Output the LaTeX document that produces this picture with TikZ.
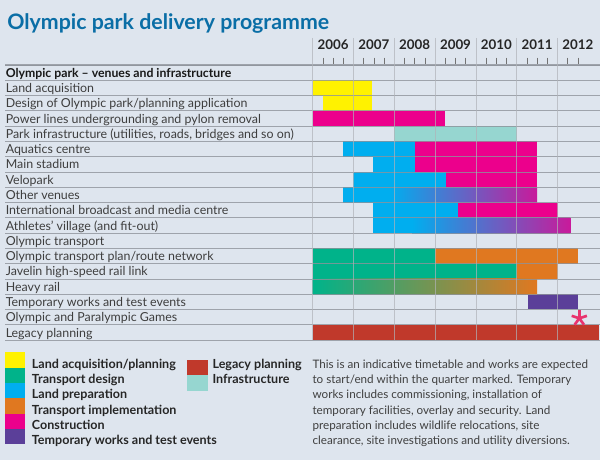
\documentclass[tikz,border=0pt]{standalone}
\usepackage{fontspec}
\setmainfont{Lato}
\begin{document}
\begin{tikzpicture}[x=0.75pt,y=-0.75pt,
    rowlbl/.style={anchor=base west,inner sep=0pt,text=txtgrey,font=\fontsize{9.3}{10}\selectfont},
    keylbl/.style={anchor=base west,inner sep=0pt,text=black!85,font=\bfseries\fontsize{9.4}{10}\selectfont},
    notelbl/.style={anchor=base west,inner sep=0pt,text=black!75,font=\fontsize{8.75}{10}\selectfont},
    yearlbl/.style={anchor=base,inner sep=0pt,text=black!85,font=\bfseries\fontsize{10}{11}\selectfont},
    hline/.style={draw=gridgrey,line width=0.6pt,opacity=0.8},
    vline/.style={draw=gridgrey!70,line width=0.6pt,opacity=0.7},
    qtick/.style={draw=black!55,line width=0.45pt}]
    %colours
    \definecolor{bg}{HTML}{DEE5EE}
    \definecolor{ttlblue}{HTML}{0A6EA6}
    \definecolor{txtgrey}{HTML}{3E3E3E}
    \definecolor{gridgrey}{HTML}{8E939B}
    \definecolor{yel}{HTML}{FFF200}
    \definecolor{tgreen}{HTML}{00B38A}
    \definecolor{lblue}{HTML}{00AEEF}
    \definecolor{orng}{HTML}{E07820}
    \definecolor{mag}{HTML}{EC008C}
    \definecolor{purp}{HTML}{5B3F99}
    \definecolor{legred}{HTML}{C0392B}
    \definecolor{infra}{HTML}{96D6D0}
    \definecolor{astpink}{HTML}{E8336E}

    % Fondo
    \fill[bg] (0,0) rectangle (600,460);
    \useasboundingbox (0,0) rectangle (600,460);

    % Titulo
    \node[anchor=base west,inner sep=0pt,text=ttlblue,font=\bfseries\fontsize{16}{18}\selectfont] (title) at (7,30) {Olympic park delivery programme};

    % Barras
    \foreach \r/\xa/\xb/\c in {1/312.7/372/yel, 2/322.7/372/yel, 3/312.7/445.3/mag, 4/394.3/517/infra,
        5/342.7/415/lblue, 5/415/537/mag, 6/373.3/415/lblue, 6/415/537/mag,
        7/353.3/445.7/lblue, 7/445.7/537/mag, 8/342.7/390/lblue,
        9/373.3/457.7/lblue, 9/457.7/557.7/mag, 10/373.3/412/lblue,
        12/312.7/435.3/tgreen, 12/435.3/578.3/orng, 13/312.7/517/tgreen, 13/517/557.7/orng,
        15/527.7/578.3/purp, 17/312.7/599/legred}
      \fill[\c] (\xa,{65+15.28*\r}) rectangle (\xb,{65+15.28*(\r+1)});
    % Barras degradadas
    \shade[left color=lblue,right color=mag!85!lblue] (390,{65+15.28*8}) rectangle (537,{65+15.28*9});
    \shade[left color=lblue,right color=mag!85!lblue] (412,{65+15.28*10}) rectangle (570.3,{65+15.28*11});
    \shade[left color=tgreen,right color=orng] (312.7,{65+15.28*14}) rectangle (537,{65+15.28*15});

    % Rejilla
    \foreach \i in {0,...,18}
      \draw[hline] (5,{65+15.28*\i}) -- (600,{65+15.28*\i});
    \draw[hline,line width=0.9pt] (5,65) -- (600,65);
    \foreach \k in {0,...,6}
      \draw[vline] ({312.7+40.8*\k},38) -- ({312.7+40.8*\k},340.04);

    % Anos y trimestres
    \foreach \k/\yr in {0/2006,1/2007,2/2008,3/2009,4/2010,5/2011,6/2012}
      \node[yearlbl] (y\yr) at ({333.1+40.8*\k},50) {\yr};
    \foreach \k in {0,...,5}
      \foreach \q in {1,2,3}
        \draw[qtick] ({312.7+40.8*\k+10.2*\q},57.7) -- +(0,6.6);
    \foreach \q in {1,2}
      \draw[qtick] ({557.5+10.2*\q},57.7) -- +(0,6.6);

    % Filas
    \node[rowlbl,font=\bfseries\fontsize{9.2}{10}\selectfont,text=black!90] (row0) at (5.5,77.3) {Olympic park -- venues and infrastructure};
    \foreach \i/\txt in {1/{Land acquisition}, 2/{Design of Olympic park/planning application},
        3/{Power lines undergrounding and pylon removal},
        4/{Park infrastructure (utilities, roads, bridges and so on)}, 5/{Aquatics centre},
        6/{Main stadium}, 7/{Velopark}, 8/{Other venues}, 9/{International broadcast and media centre},
        10/{Athletes' village (and fit-out)}, 11/{Olympic transport}, 12/{Olympic transport plan/route network},
        13/{Javelin high-speed rail link}, 14/{Heavy rail}, 15/{Temporary works and test events},
        16/{Olympic and Paralympic Games}, 17/{Legacy planning}}
      \node[rowlbl] (row\i) at (5.5,{65+15.28*(\i+1)-3}) {\txt};

    % Asterisco
    \coordinate (ast) at (579.3,318.3);
    \foreach \a in {270,342,198,54,126}
      \draw[astpink,line width=2pt] (ast) -- +(\a:8);

    % Leyenda
    \foreach \j/\c/\txt in {0/yel/{Land acquisition/planning}, 1/tgreen/{Transport design},
        2/lblue/{Land preparation}, 3/orng/{Transport implementation}, 4/mag/{Construction},
        5/purp/{Temporary works and test events}}
    {
      \fill[\c] (5,{352.3+15.3*\j}) rectangle (25,{352.3+15.3*(\j+1)});
      \node[keylbl] (key\j) at (31.7,{368.3+15.3*\j}) {\txt};
    }
    \foreach \j/\c/\txt in {0/legred/{Legacy planning}, 1/infra/{Infrastructure}}
    {
      \fill[\c] (187.3,{360+15.3*\j}) rectangle (208.3,{360+15.3*(\j+1)});
      \node[keylbl] (keyb\j) at (212.3,{368.3+15.3*\j}) {\txt};
    }

    % Nota
    \foreach \k/\txt in {0/{This is an indicative timetable and works are expected},
        1/{to start/end within the quarter marked. Temporary},
        2/{works includes commissioning, installation of},
        3/{temporary facilities, overlay and security. Land},
        4/{preparation includes wildlife relocations, site},
        5/{clearance, site investigations and utility diversions.}}
      \node[notelbl] (note\k) at (312.3,{368.5+15.2*\k}) {\txt};
\end{tikzpicture}
\end{document}
